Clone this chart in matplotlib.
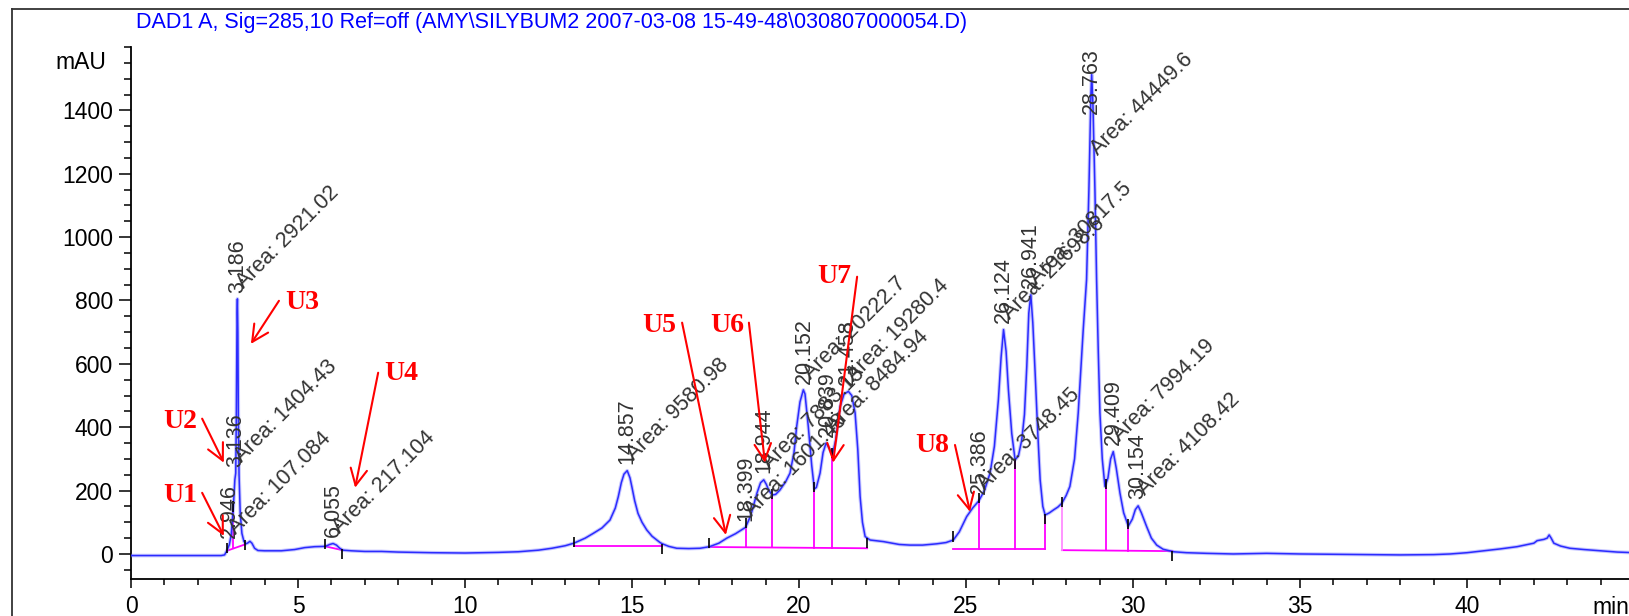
import numpy as np
import matplotlib
matplotlib.use("Agg")
import matplotlib.pyplot as plt
from matplotlib.lines import Line2D
from matplotlib.ticker import MultipleLocator

plt.rcParams['font.family'] = ['Liberation Sans', 'DejaVu Sans']

# ---- trace (time in min, signal in mAU) ----
time_min = [0.0, 1.0, 2.0, 2.70, 2.80, 2.87, 2.946, 3.00, 3.06, 3.11, 3.136, 3.155, 3.175,
            3.186, 3.20, 3.215, 3.235, 3.27, 3.32, 3.38, 3.44, 3.50, 3.56, 3.62, 3.70,
            3.80, 4.0, 4.5, 4.9, 5.2, 5.5, 5.82, 5.95, 6.05, 6.15, 6.25, 6.35, 6.6, 7.0,
            7.5, 8.0, 9.0, 10.0, 11.0, 11.6, 12.2, 12.6, 13.0, 13.26, 13.6, 13.84, 14.1,
            14.34, 14.5, 14.59, 14.68, 14.76, 14.857, 14.94, 15.0, 15.08, 15.18, 15.3,
            15.44, 15.6, 15.84, 15.91, 16.1, 16.34, 16.7, 17.04, 17.32, 17.6, 17.84, 18.1,
            18.4, 18.55, 18.63, 18.75, 18.85, 18.944, 19.02, 19.1, 19.2, 19.3, 19.43, 19.6,
            19.73, 19.85, 19.93, 20.03, 20.13, 20.18, 20.28, 20.38, 20.46, 20.52, 20.63,
            20.72, 20.81, 20.9, 21.0, 21.1, 21.23, 21.35, 21.48, 21.58, 21.68, 21.76,
            21.83, 21.9, 21.98, 22.13, 22.53, 23.0, 23.32, 23.7, 24.12, 24.4, 24.62, 24.8,
            25.02, 25.2, 25.386, 25.55, 25.72, 25.85, 25.97, 26.05, 26.124, 26.2, 26.27,
            26.37, 26.47, 26.57, 26.67, 26.75, 26.82, 26.88, 26.941, 27.0, 27.07, 27.15,
            27.22, 27.3, 27.37, 27.5, 27.62, 27.75, 27.87, 28.0, 28.11, 28.25, 28.36,
            28.45, 28.51, 28.61, 28.68, 28.74, 28.763, 28.8, 28.86, 28.91, 28.96, 29.01,
            29.08, 29.16, 29.25, 29.33, 29.409, 29.5, 29.61, 29.72, 29.86, 29.98, 30.07,
            30.154, 30.25, 30.41, 30.55, 30.71, 30.9, 31.21, 31.6, 32.2, 33.0, 34.0, 35.0,
            36.0, 37.0, 38.0, 39.0, 39.5, 40.0, 40.5, 41.0, 41.5, 42.0, 42.1, 42.3, 42.4,
            42.46, 42.52, 42.6, 42.8, 43.08, 43.5, 44.0, 44.5, 45.0]
signal_mau = [-5, -5, -5, -5, -3, 10, 30, 60, 140, 235, 255, 450, 760,
              805, 700, 420, 250, 130, 65, 40, 32, 35, 40, 34, 18,
              11, 10, 10, 14, 20, 23, 24, 30, 33, 28, 18, 12, 10, 8,
              8, 6, 4, 3, 5, 7, 12, 18, 26, 34, 50, 65, 82,
              107, 145, 181, 225, 252, 263, 240, 210, 168, 128, 100,
              76, 56, 36, 32, 24, 18, 17, 18, 23, 34, 50, 64,
              84, 120, 150, 195, 225, 234, 220, 200, 186, 188, 202, 228,
              255, 320, 402, 480, 518, 505, 400, 280, 205, 210, 255,
              320, 350, 335, 313, 360, 465, 505, 513, 500, 445, 330,
              181, 100, 55, 44, 39, 30, 28, 28, 32, 36, 44, 70,
              118, 145, 168, 200, 255, 340, 487, 620, 708, 640, 518,
              380, 297, 310, 360, 440, 592, 760, 818, 730, 571, 380,
              234, 150, 123, 130, 139, 148, 160, 185, 213, 300, 445,
              600, 708, 866, 1150, 1450, 1513, 1420, 1150, 866, 640, 445,
              300, 213, 240, 300, 323, 270, 192, 130, 88, 110, 140,
              152, 130, 86, 50, 28, 15, 7, 4, 2, 0, 2, 0,
              -1, -2, -3, -2, 0, 4, 10, 16, 23, 34, 42, 46, 50,
              60, 50, 34, 25, 18, 14, 10, 6, 4]

# ---- integrated peaks ----
peak_rt = ['2.946', '3.136', '3.186', '6.055', '14.857', '18.399', '18.944', '20.152',
           '20.839', '21.458', '25.386', '26.124', '26.941', '28.763', '29.409', '30.154']
peak_height = [30, 255, 805, 33, 263, 84, 234, 518, 350, 513, 168, 708, 818, 1513, 323, 152]
peak_area = ['107.084', '1404.43', '2921.02', '217.104', '9580.98', '1601.48', '7883.13',
             '20222.7', '8484.94', '19280.4', '3748.45', '21698.6', '30817.5', '44449.6',
             '7994.19', '4108.42']

# integration baselines (start/end time and level)
base_t0 = [2.87, 5.82, 13.26, 17.32, 24.62, 27.87]
base_y0 = [10, 24, 26, 22, 15, 12]
base_t1 = [3.41, 6.33, 15.91, 22.04, 27.37, 31.18]
base_y1 = [30, 12, 26, 18, 15, 9]

# drop lines between peaks
drop_t = [3.06, 18.40, 19.20, 20.46, 21.00, 25.40, 26.47, 27.37, 27.87, 29.18, 29.86]
drop_lo = [18, 22, 21, 20, 20, 15, 15, 15, 12, 11, 10]
drop_hi = [140, 84, 186, 205, 313, 168, 297, 123, 160, 213, 88]

# black event ticks
event_t = [2.87, 3.06, 3.41, 5.82, 6.33, 13.26, 15.91, 17.32, 18.40, 19.20, 20.46,
           21.00, 22.04, 24.62, 25.40, 26.47, 27.37, 27.87, 29.18, 29.86, 31.18]
event_y = [20, 150, 28, 32, 0, 38, 16, 34, 98, 190, 210,
           320, 34, 55, 177, 285, 110, 165, 220, 95, -6]

# red marker annotations: label, text pos, arrow tail, arrow tip
marks = ['U1', 'U2', 'U3', 'U4', 'U5', 'U6', 'U7', 'U8']
mark_text = [(1.47, 186), (1.47, 417), (5.12, 793), (8.08, 569),
             (15.81, 720), (17.84, 720), (21.05, 875), (23.98, 341)]
mark_tail = [(2.13, 193), (2.13, 427), (4.43, 799), (7.40, 572),
             (16.50, 730), (18.50, 730), (21.74, 875), (24.67, 344)]
mark_tip = [(2.78, 57), (2.78, 288), (3.59, 663), (6.71, 209),
            (17.81, 60), (18.98, 288), (21.02, 288), (25.12, 133)]

fig = plt.figure(figsize=(16.29, 6.16), dpi=100)
ax = fig.add_axes([131 / 1629, 37 / 616, 1503 / 1629, 532 / 616])

# trace, drawn twice to get the soft halo of the original print
ax.plot(time_min, signal_mau, color='#8080ff', lw=2.6, alpha=0.45, zorder=3)
ax.plot(time_min, signal_mau, color='#2b2bff', lw=1.1, zorder=4)

for t0, y0, t1, y1 in zip(base_t0, base_y0, base_t1, base_y1):
    ax.plot([t0, t1], [y0, y1], color='#ff00ff', lw=1.3, zorder=2)
for t, lo, hi in zip(drop_t, drop_lo, drop_hi):
    col = '#ff8cff' if t == 27.87 else '#ff00ff'
    ax.plot([t, t], [lo, hi], color=col, lw=1.3, zorder=2)
ax.vlines(event_t, np.array(event_y) - 16, np.array(event_y) + 16,
          color='black', lw=1.2, zorder=5)

# peak labels: retention time vertical, area at 45 degrees
for rt, h, area in zip(peak_rt, peak_height, peak_area):
    t = float(rt)
    ly = h + 20
    ay = h + 20
    if h > 1300:
        ly, ay = 1390, 1245
    ax.text(t, ly, rt, rotation=90, rotation_mode='anchor', ha='left', va='center',
            fontsize=15.5, color='#333333', zorder=6)
    ax.text(t + 0.3, ay, 'Area: ' + area, rotation=45, rotation_mode='anchor',
            ha='left', va='bottom', fontsize=15.5, color='#333333', zorder=6)

# red U markers with arrows
for lab, tp, tail, tip in zip(marks, mark_text, mark_tail, mark_tip):
    ax.text(tp[0], tp[1], lab, ha='center', va='center', color='red', fontsize=20,
            fontweight='bold', family='Liberation Serif', zorder=7)
    ax.annotate('', xy=tip, xytext=tail,
                arrowprops=dict(arrowstyle='->,head_length=0.7,head_width=0.35',
                                color='red', lw=1.5, shrinkA=0, shrinkB=0,
                                mutation_scale=17), zorder=7)

# axes styling (ChemStation look)
ax.set_xlim(0, 45)
ax.set_ylim(-79, 1600)
ax.spines['top'].set_visible(False)
ax.spines['right'].set_visible(False)
ax.spines['left'].set_linewidth(1.3)
ax.spines['bottom'].set_linewidth(1.3)
ax.set_xticks(np.arange(0, 45, 5))
ax.set_xticklabels([str(v) for v in range(0, 45, 5)])
ax.xaxis.set_minor_locator(MultipleLocator(1))
ax.set_yticks(np.arange(0, 1401, 200))
ax.yaxis.set_minor_locator(MultipleLocator(50))
ax.tick_params(axis='y', which='major', direction='out', length=8.5, width=1.1,
               pad=4.5, labelsize=16.5)
ax.tick_params(axis='y', which='minor', direction='out', length=4.8, width=1.1)
ax.tick_params(axis='x', which='major', direction='out', length=6.5, width=1.1,
               pad=5, labelsize=16.5)
ax.tick_params(axis='x', which='minor', direction='out', length=4, width=1.1)

ax.text(-0.75, 1550, 'mAU', ha='right', va='center', fontsize=16.5)
ax.text(44.85, -132, 'min', ha='right', va='top', fontsize=16.5)

# title and outer frame
fig.text(136 / 1629, 1 - 22.5 / 616, 'DAD1 A, Sig=285,10 Ref=off (AMY\\SILYBUM2 2007-03-08 '
         '15-49-48\\030807000054.D)', color='#0000ff', fontsize=15.5, ha='left', va='center')
fig.add_artist(Line2D([11.5 / 1629, 1.0], [1 - 9 / 616, 1 - 9 / 616],
                      color='#333333', lw=1.3))
fig.add_artist(Line2D([11.5 / 1629, 11.5 / 1629], [0, 1 - 9 / 616],
                      color='#333333', lw=1.3))

fig.savefig('out.png', dpi=100)
